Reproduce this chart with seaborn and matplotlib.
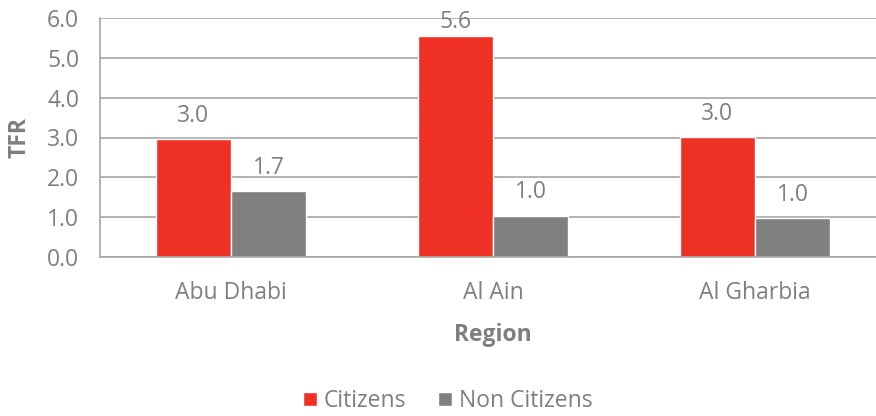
import matplotlib
matplotlib.use("Agg")
import matplotlib.pyplot as plt
import seaborn as sns
import pandas as pd

# valeurs
regions = ["Abu Dhabi", "Al Ain", "Al Gharbia"]
citizens = [2.96, 5.56, 3.02]
non_citizens = [1.66, 1.04, 0.97]
groups = ["Citizens", "Non Citizens"]
colors = ["#EE3124", "#808080"]

df = pd.DataFrame({
    "Region": regions * 2,
    "TFR": citizens + non_citizens,
    "Group": [groups[0]] * 3 + [groups[1]] * 3,
})

sns.set_style("white")
plt.rcParams["font.family"] = ["Open Sans", "DejaVu Sans"]
txt = "#7F7F7F"
fs = 16.5

fig = plt.figure(figsize=(8.76, 4.16), dpi=100)
ax = fig.add_axes([100 / 876, 1 - 257 / 416, 786 / 876, 239 / 416])

sns.barplot(data=df, x="Region", y="TFR", hue="Group", palette=colors,
            width=150 / 262, saturation=1, ax=ax, legend=True)

# étiquettes : la plus haute est collée à la barre (comme dans Excel)
ymax = 6
for c in ax.containers:
    vals = [b.get_height() for b in c]
    normal = [f"{v:.1f}" if v < 5 else "" for v in vals]
    tight = [f"{v:.1f}" if v >= 5 else "" for v in vals]
    ax.bar_label(c, labels=normal, padding=8, color=txt, fontsize=fs)
    ax.bar_label(c, labels=tight, padding=1, color=txt, fontsize=fs)

ax.set_ylim(0, ymax)
ax.set_yticks([0, 1, 2, 3, 4, 5, 6])
ax.set_yticklabels([f"{v:.1f}" for v in range(7)])
ax.set_xlim(-0.5, 2.5)
ax.yaxis.grid(True, color="#A6A6A6", linewidth=1.2)
ax.set_axisbelow(True)
for s in ["top", "right"]:
    ax.spines[s].set_visible(False)
for s in ["left", "bottom"]:
    ax.spines[s].set_color("#A6A6A6")
    ax.spines[s].set_linewidth(1.2)

ax.set_xticks([0.5, 1.5], minor=True)
ax.tick_params(axis="x", which="minor", length=6, color="#A6A6A6", width=1.2)
ax.tick_params(axis="x", which="major", length=0, pad=17, labelsize=fs, labelcolor=txt)
ax.tick_params(axis="y", length=6, color="#A6A6A6", width=1.2, pad=9, labelsize=fs, labelcolor=txt)

ax.set_xlabel("Region", fontsize=fs, fontweight="bold", color=txt, labelpad=13)
ax.set_ylabel("TFR", fontsize=fs, fontweight="bold", color=txt, labelpad=11)

ax.get_legend().remove()
handles, labels = ax.get_legend_handles_labels()
fig.legend(handles, labels, loc="center", bbox_to_anchor=(448 / 876, 1 - 401 / 416),
           ncol=2, frameon=False, fontsize=fs, labelcolor=txt, borderpad=0.1,
           handlelength=0.6, handleheight=0.6, handletextpad=0.3, columnspacing=1.4)

fig.savefig("out.png", dpi=100)
